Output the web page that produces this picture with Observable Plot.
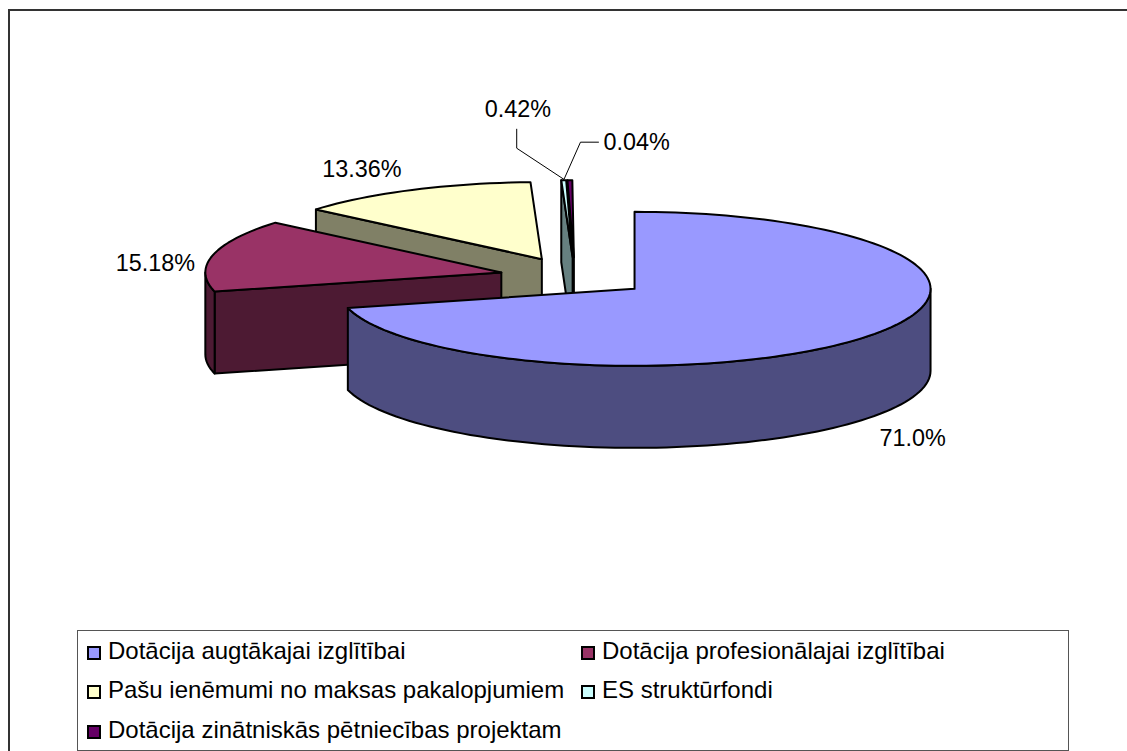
<!DOCTYPE html>
<html><head><meta charset="utf-8">
<script src="https://cdn.jsdelivr.net/npm/d3@7"></script>
<script src="https://cdn.jsdelivr.net/npm/@observablehq/plot@0.6"></script>
<style>
html,body{margin:0;padding:0;background:#fff;overflow:hidden;width:1127px;height:751px}
#chart{position:absolute;left:0;top:0}
#frame{position:absolute;left:8px;top:9px;width:1300px;height:900px;border:2px solid #333;box-sizing:border-box}
#legend{position:absolute;left:77px;top:630px;width:992px;height:121px;box-sizing:border-box;border:1.5px solid #555;background:#fff;
 display:grid;grid-template-columns:494px auto;grid-auto-rows:39.5px;padding-left:9px;font:24px "Liberation Sans",Arial,sans-serif;color:#000}
#legend div{display:flex;align-items:center;white-space:nowrap;height:39.5px}
#legend i{display:inline-block;width:14px;height:14px;box-sizing:border-box;border:2px solid #000;margin:4px 7px 0 0;flex:none}
svg text{font-family:"Liberation Sans",Arial,sans-serif}
</style></head><body>
<div id="frame"></div>
<div id="chart"></div>
<div id="legend"></div>
<script>
const categories = ["Dotācija augtākajai izglītībai","Dotācija profesionālajai izglītībai","Pašu ienēmumi no maksas pakalopjumiem","ES struktūrfondi","Dotācija zinātniskās pētniecības projektam"];
const values = [71.0,15.18,13.36,0.42,0.04];
const valueLabels = ["71.0%","15.18%","13.36%","0.42%","0.04%"];
const topColors = ["#9999FF","#993366","#FFFFCC","#CCFFFF","#660066"];
const sideColors = ["#4D4D80","#4D1A33","#808066","#668080","#330033"];

// layout of the pie in pixels
const W = 1127, H = 751, cx = 574.4, cy = 276.3, rx = 296, ry = 77, depth = 82/77, explode = 0.255, thinSweep = 0.95, thinEnd = 359.7;
const labelOffsets = [[11,102.6],[-97,8],[-90,-20],[-79,-71],[33.6,-37.4]];
const leaderOffsets = {3:[[-47,-51],[-47,-32],[0,-1]],4:[[28.6,-38],[10.6,-38],[-5.8,-1]]};

const rad = d => d*Math.PI/180;
// sweeps: hairline slices are drawn at a visible minimum, anchored back from the top
const slices = [];
let a = 0;
values.forEach((v,i)=>{ slices.push({i,v,start:a,end:a+v*3.6}); a+=v*3.6; });
let back = thinEnd;
for (let i=slices.length-1;i>=0 && values[i]<1;i--){ slices[i].end=back; slices[i].start=back-thinSweep; back-=thinSweep; }
slices[2].end = back;
slices.forEach(s=>{
  s.mid=(s.start+s.end)/2;
  s.ax=explode*Math.sin(rad(s.mid)); s.ay=-explode*Math.cos(rad(s.mid));
  s.rimX=s.ax+Math.sin(rad(s.mid)); s.rimY=s.ay-Math.cos(rad(s.mid));
});
const rimPt=(s,d,h=0)=>({x:s.ax+Math.sin(rad(d)),y:s.ay-Math.cos(rad(d))+h});
const arcPts=(s,d0,d1,h=0)=>{const n=Math.max(2,Math.ceil((d1-d0)/2)),out=[];for(let k=0;k<=n;k++)out.push(rimPt(s,d0+(d1-d0)*k/n,h));return out;};

const faces=[];
const addFace=(id,fill,pts)=>{[...pts,pts[0]].forEach(p=>faces.push({id,fill,x:p.x,y:p.y}));};
[...slices].sort((p,q)=>Math.cos(rad(q.mid))-Math.cos(rad(p.mid))).forEach(s=>{
  const apex={x:s.ax,y:s.ay},apexB={x:s.ax,y:s.ay+depth},side=sideColors[s.i];
  if(Math.sin(rad(s.start))<0) addFace(`s${s.i}`,side,[rimPt(s,s.start),apex,apexB,rimPt(s,s.start,depth)]);
  if(Math.sin(rad(s.end))>0) addFace(`e${s.i}`,side,[rimPt(s,s.end),apex,apexB,rimPt(s,s.end,depth)]);
  const r0=Math.max(s.start,90),r1=Math.min(s.end,270);
  if(r1>r0) addFace(`r${s.i}`,side,[...arcPts(s,r0,r1),...arcPts(s,r0,r1,depth).reverse()]);
  addFace(`t${s.i}`,topColors[s.i],[apex,...arcPts(s,s.start,s.end)]);
});

const labelsData=slices.map(s=>({x:s.rimX+labelOffsets[s.i][0]/rx,y:s.rimY+labelOffsets[s.i][1]/ry,t:valueLabels[s.i]}));
const leaders=[];
Object.entries(leaderOffsets).forEach(([i,pts])=>{const s=slices[+i];pts.forEach(o=>leaders.push({id:i,x:s.rimX+o[0]/rx,y:s.rimY+o[1]/ry}));});

const plot=Plot.plot({
  width:W,height:H,margin:0,
  x:{domain:[-cx/rx,(W-cx)/rx],range:[0,W],axis:null},
  y:{domain:[-cy/ry,(H-cy)/ry],range:[0,H],axis:null},
  style:{background:"transparent"},
  marks:[
    Plot.line(faces,{x:"x",y:"y",z:"id",fill:"fill",stroke:"#000",strokeWidth:2,strokeLinejoin:"round",curve:"linear"}),
    Plot.line(leaders,{x:"x",y:"y",z:"id",stroke:"#000",strokeWidth:1,curve:"linear"}),
    Plot.text(labelsData,{x:"x",y:"y",text:"t",textAnchor:"start",fontSize:23.4,fill:"#000"})
  ]
});
document.getElementById("chart").append(plot);

const legend=document.getElementById("legend");
categories.forEach((c,i)=>{
  const d=document.createElement("div");
  const sw=document.createElement("i"); sw.style.background=topColors[i];
  d.append(sw,document.createTextNode(c));
  legend.append(d);
});
</script>
</body></html>
